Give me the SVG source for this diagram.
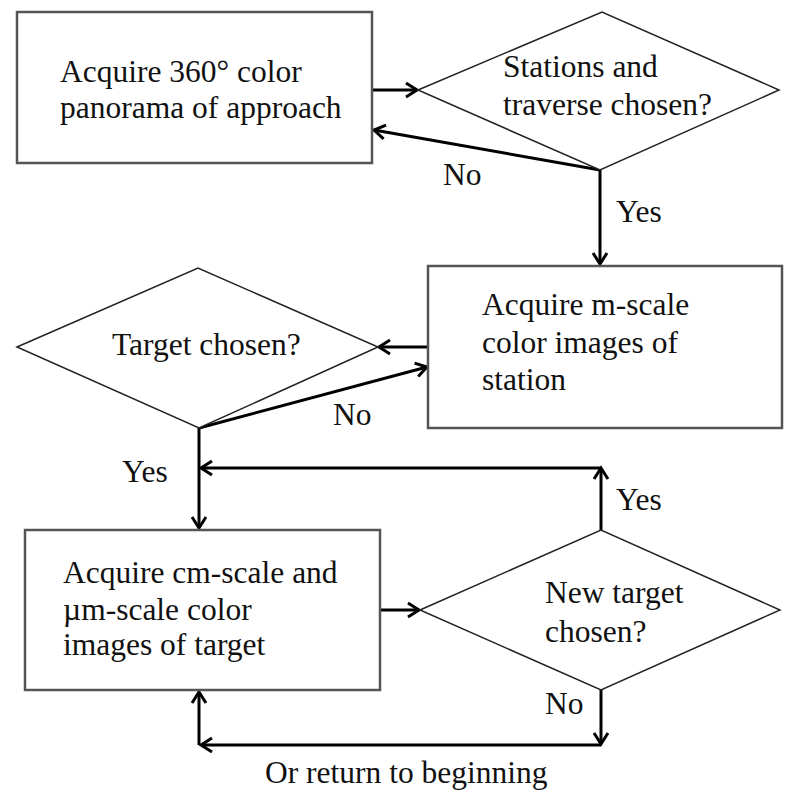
<svg xmlns="http://www.w3.org/2000/svg" width="800" height="811" viewBox="0 0 800 811">
<defs>
<marker id="ah" markerUnits="userSpaceOnUse" markerWidth="20" markerHeight="20" refX="14" refY="8" orient="auto" overflow="visible">
<path d="M3,1 L14,8 L3,15" fill="none" stroke="#000" stroke-width="3" stroke-linejoin="miter"/>
</marker>
</defs>
<style>
.box{fill:#fff;stroke:#555;stroke-width:2.5}
.dia{fill:#fff;stroke:#222;stroke-width:1.5}
.t{font-family:"Liberation Serif","Times New Roman",serif;font-size:31.5px;fill:#111}
.c{fill:none;stroke:#000;stroke-width:3}
</style>
<rect width="800" height="811" fill="#fff"/>
<g id="connectors">
<line class="c" x1="373" y1="90" x2="417" y2="90" marker-end="url(#ah)"/>
<line class="c" x1="600" y1="170" x2="374" y2="130" marker-end="url(#ah)"/>
<line class="c" x1="600" y1="170" x2="600" y2="264" marker-end="url(#ah)"/>
<line class="c" x1="428" y1="347" x2="379" y2="347" marker-end="url(#ah)"/>
<line class="c" x1="199" y1="428" x2="427" y2="367" marker-end="url(#ah)"/>
<line class="c" x1="199" y1="428" x2="199" y2="528" marker-end="url(#ah)"/>
<line class="c" x1="601" y1="530" x2="601" y2="468" marker-end="url(#ah)"/>
<line class="c" x1="601" y1="468" x2="201" y2="468" marker-end="url(#ah)"/>
<line class="c" x1="380" y1="610" x2="419" y2="610" marker-end="url(#ah)"/>
<line class="c" x1="601" y1="690" x2="601" y2="744" marker-end="url(#ah)"/>
<line class="c" x1="601" y1="745" x2="201" y2="745" marker-end="url(#ah)"/>
<line class="c" x1="199" y1="745" x2="199" y2="692" marker-end="url(#ah)"/>
<text class="t" x="443" y="185">No</text>
<text class="t" x="616" y="222">Yes</text>
<text class="t" x="333" y="425">No</text>
<text class="t" x="122" y="482">Yes</text>
<text class="t" x="616" y="510">Yes</text>
<text class="t" x="545" y="714">No</text>
<text class="t" x="265" y="783">Or return to beginning</text>
</g>
<g id="box1">
<rect class="box" x="17" y="12" width="355" height="151"/>
<text class="t" x="60" y="82">Acquire 360° color</text>
<text class="t" x="60" y="118">panorama of approach</text>
</g>
<g id="dia1">
<polygon class="dia" points="418,90 602,12 779,90 600,170"/>
<text class="t" x="503" y="77">Stations and</text>
<text class="t" x="503" y="115">traverse chosen?</text>
</g>
<g id="box2">
<rect class="box" x="428" y="266" width="354" height="162"/>
<text class="t" x="482" y="315">Acquire m-scale</text>
<text class="t" x="482" y="353">color images of</text>
<text class="t" x="482" y="390">station</text>
</g>
<g id="dia2">
<polygon class="dia" points="17,347 198,268 378,347 199,428"/>
<text class="t" x="112" y="355">Target chosen?</text>
</g>
<g id="box3">
<rect class="box" x="25" y="530" width="355" height="160"/>
<text class="t" x="63" y="583">Acquire cm-scale and</text>
<text class="t" x="63" y="620">µm-scale color</text>
<text class="t" x="63" y="655">images of target</text>
</g>
<g id="dia3">
<polygon class="dia" points="420,610 601,530 780,610 601,690"/>
<text class="t" x="545" y="603">New target</text>
<text class="t" x="545" y="642">chosen?</text>
</g>
</svg>
